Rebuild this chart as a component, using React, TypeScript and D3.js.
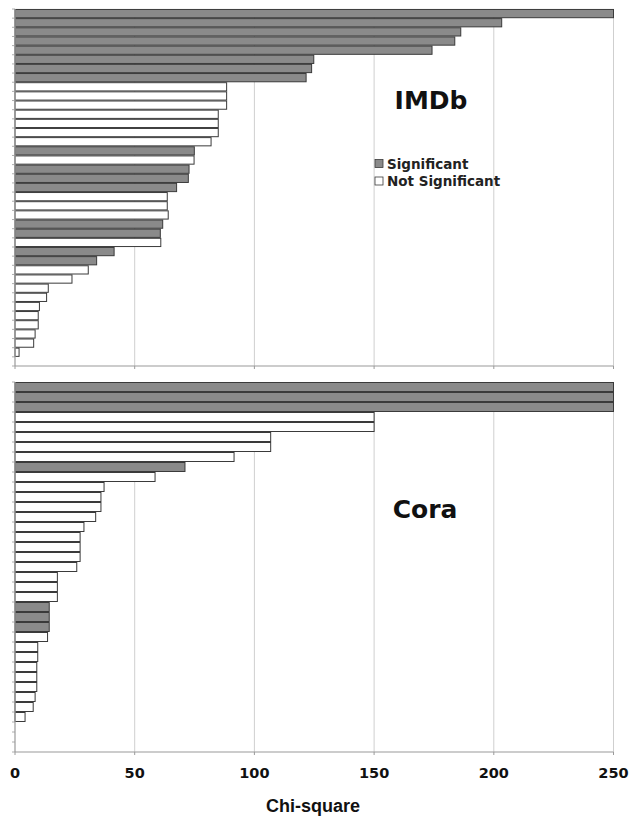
import React from "react";
import * as d3 from "d3";

// IMDb panel: chi-square values, top to bottom; sig = significant (grey)
const imdbValues = [250, 203.3, 186.2, 183.7, 174.2, 124.8, 123.9, 121.6, 88.4, 88.4, 88.4, 84.9, 84.9, 84.9, 81.9, 74.9, 74.8, 72.7, 72.4, 67.5, 63.6, 63.6, 64.0, 61.7, 60.7, 60.9, 41.4, 34.1, 30.6, 23.8, 13.9, 13.2, 10.2, 9.7, 9.7, 8.4, 7.8, 1.7];
const imdbSig = [1, 1, 1, 1, 1, 1, 1, 1, 0, 0, 0, 0, 0, 0, 0, 1, 0, 1, 1, 1, 0, 0, 0, 1, 1, 0, 1, 1, 0, 0, 0, 0, 0, 0, 0, 0, 0, 0];

// Cora panel
const coraValues = [250, 250, 250, 150, 150, 106.8, 106.8, 91.5, 71.0, 58.5, 37.2, 35.9, 35.9, 33.7, 28.8, 27.2, 27.2, 27.2, 25.8, 17.7, 17.7, 17.7, 14.3, 14.3, 14.3, 13.6, 9.5, 9.5, 9.1, 9.1, 9.1, 8.4, 7.6, 4.2];
const coraSig = [1, 1, 1, 0, 0, 0, 0, 0, 1, 0, 0, 0, 0, 0, 0, 0, 0, 0, 0, 0, 0, 0, 1, 1, 1, 0, 0, 0, 0, 0, 0, 0, 0, 0];

const xTicks = [0, 50, 100, 150, 200, 250];
const legendLabels = ["Significant", "Not Significant"];

const W = 636;
const H = 818;
const x = d3.scaleLinear().domain([0, 250]).range([15, 613.5]);

const GREY = "#8a8a8a";
const STROKE = "#3a3a3a";
const GRID = "#cfcfcf";
const AXIS = "#9a9a9a";
const FONT = "'DejaVu Sans', Verdana, sans-serif";

function Panel({ values, sig, top, bottom, slots, label, labelX, labelY }: any) {
  const step = (bottom - top) / slots;
  const y = d3
    .scaleBand<number>()
    .domain(d3.range(values.length))
    .range([top, top + step * values.length])
    .paddingInner(0.1)
    .paddingOuter(0.05);
  return (
    <g>
      {xTicks.slice(1).map((t) => (
        <line key={"g" + t} x1={x(t)} x2={x(t)} y1={top} y2={bottom} stroke={GRID} strokeWidth={1} />
      ))}
      {values.map((v: number, i: number) => (
        <rect
          key={i}
          x={x(0)}
          y={y(i)!}
          width={x(Math.min(v, 250)) - x(0)}
          height={y.bandwidth()}
          fill={sig[i] ? GREY : "#ffffff"}
          stroke={STROKE}
          strokeWidth={1}
        />
      ))}
      <line x1={x(0)} x2={x(0)} y1={top} y2={bottom} stroke={AXIS} strokeWidth={1.2} />
      <line x1={x(0)} x2={x(250)} y1={bottom} y2={bottom} stroke={AXIS} strokeWidth={1.2} />
      {d3.range(slots + 1).map((k) => (
        <line key={"t" + k} x1={x(0) - 3} x2={x(0)} y1={top + k * step} y2={top + k * step} stroke={AXIS} strokeWidth={0.8} />
      ))}
      {xTicks.map((t) => (
        <line key={"xt" + t} x1={x(t)} x2={x(t)} y1={bottom} y2={bottom + 3} stroke={AXIS} strokeWidth={1} />
      ))}
      <text x={labelX} y={labelY} textAnchor="middle" dominantBaseline="central" fontFamily={FONT} fontWeight="bold" fontSize={25} fill="#111">
        {label}
      </text>
    </g>
  );
}

export default function App() {
  return (
    <svg width={W} height={H} style={{ position: "absolute", left: 0, top: 0, background: "#fff" }}>
      <rect x={0} y={0} width={W} height={H} fill="#fff" />
      <Panel values={imdbValues} sig={imdbSig} top={9} bottom={366} slots={39} label="IMDb" labelX={431} labelY={100} />
      <Panel values={coraValues} sig={coraSig} top={382} bottom={752} slots={37} label="Cora" labelX={425} labelY={509} />
      {/* legend */}
      {legendLabels.map((l, i) => (
        <g key={l} transform={`translate(375, ${159.5 + i * 17.5})`}>
          <rect x={0} y={0} width={8} height={8} fill={i === 0 ? GREY : "#fff"} stroke={STROKE} strokeWidth={0.8} />
          <text x={12} y={4} dominantBaseline="central" fontFamily={FONT} fontWeight="bold" fontSize={13.5} fill="#222">
            {l}
          </text>
        </g>
      ))}
      {xTicks.map((t) => (
        <text key={"xl" + t} x={x(t)} y={773} textAnchor="middle" dominantBaseline="central" fontFamily={FONT} fontWeight="bold" fontSize={14.5} fill="#111">
          {t}
        </text>
      ))}
      <text x={313} y={806} textAnchor="middle" dominantBaseline="central" fontFamily="'Liberation Sans', Arial, sans-serif" fontWeight="bold" fontSize={18} fill="#111">
        Chi-square
      </text>
    </svg>
  );
}
